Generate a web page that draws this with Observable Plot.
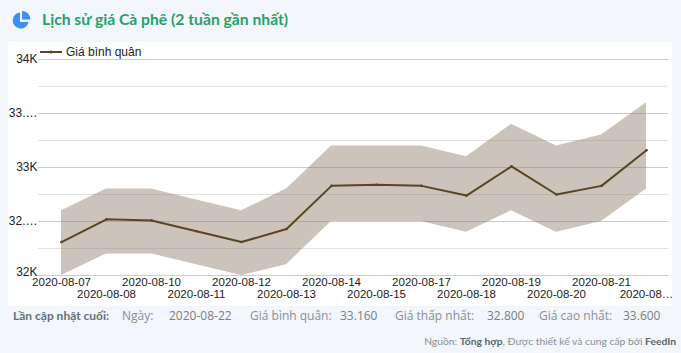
<!DOCTYPE html>
<html>
<head>
<meta charset="utf-8">
<script src="https://cdn.jsdelivr.net/npm/d3@7"></script>
<script src="https://cdn.jsdelivr.net/npm/@observablehq/plot@0.6"></script>
<style>
  html, body { margin:0; padding:0; }
  body { width:681px; height:353px; background:#f3f6fa; position:relative; overflow:hidden; font-family: Lato, "Noto Sans", sans-serif; }
  #title { position:absolute; left:42px; top:10px; font-size:15.7px; font-weight:700; color:#26a06e; white-space:nowrap; }
  #icon { position:absolute; left:11px; top:11px; }
  #panel { position:absolute; left:8px; top:42px; width:664px; height:264px; background:#fff; }
  #legend { position:absolute; left:32px; top:3px; font-family:"Liberation Sans", Arial, sans-serif; font-size:12px; color:#222; display:flex; align-items:center; }
  .f { position:absolute; font-family:"Open Sans", sans-serif; font-size:12px; color:#8a9097; white-space:nowrap; }
  .fv { color:#7b8087; }
  #src { position:absolute; right:5px; top:335px; font-family: Lato, sans-serif; font-size:10.3px; color:#8a9097; white-space:nowrap; }
  #src b { color:#5b6570; font-weight:700; }
</style>
</head>
<body>
<svg id="icon" width="20" height="20" viewBox="0 0 20 20">
  <path d="M9,1.5 A8,8 0 1 0 17.5,11 L9,11 Z" fill="#3a8ff0"/>
  <path d="M11,0 A8.5,8.5 0 0 1 19.5,8.5 L11,8.5 Z" fill="#3a8ff0"/>
</svg>
<div id="title">Lịch sử giá Cà phê (2 tuần gần nhất)</div>
<div id="panel">
  <div id="legend"><svg width="22" height="10"><line x1="0" y1="5" x2="22" y2="5" stroke="#5b4424" stroke-width="2"/><circle cx="11" cy="5" r="1.6" fill="#5b4424"/></svg><span style="margin-left:4px">Giá bình quân</span></div>
  <div id="chart"></div>
</div>
<div class="f" style="left:13px;top:308px;color:#66717b;font-weight:700;font-family:Lato,sans-serif">Lần cập nhật cuối:</div>
<div class="f" style="left:122px;top:307px">Ngày:</div>
<div class="f fv" style="left:169px;top:307px" id="fDate"></div>
<div class="f" style="left:250px;top:307px">Giá bình quân:</div>
<div class="f fv" style="left:340px;top:307px" id="fAvg"></div>
<div class="f" style="left:395px;top:307px">Giá thấp nhất:</div>
<div class="f fv" style="left:487px;top:307px" id="fLow"></div>
<div class="f" style="left:539px;top:307px">Giá cao nhất:</div>
<div class="f fv" style="left:623px;top:307px" id="fHigh"></div>
<div id="src">Nguồn: <b>Tổng hợp</b>, Được thiết kế và cung cấp bởi <b>FeedIn</b></div>
<script>
const dates = ["2020-08-07","2020-08-08","2020-08-10","2020-08-11","2020-08-12","2020-08-13","2020-08-14","2020-08-15","2020-08-17","2020-08-18","2020-08-19","2020-08-20","2020-08-21","2020-08-22"];
const xTickLabels = ["2020-08-07","2020-08-08","2020-08-10","2020-08-11","2020-08-12","2020-08-13","2020-08-14","2020-08-15","2020-08-17","2020-08-18","2020-08-19","2020-08-20","2020-08-21","2020-08…"];
const avgPrice  = [32310, 32520, 32510, 32410, 32310, 32430, 32830, 32840, 32830, 32740, 33010, 32750, 32830, 33160];
const lowPrice  = [32000, 32200, 32200, 32100, 32000, 32100, 32500, 32500, 32500, 32400, 32600, 32400, 32500, 32800];
const highPrice = [32600, 32800, 32800, 32700, 32600, 32800, 33200, 33200, 33200, 33100, 33400, 33200, 33300, 33600];
const yTicks = [32000, 32500, 33000, 33500, 34000];
const yTickLabels = ["32K", "32.…", "33K", "33.…", "34K"];
const yMinorTicks = [32250, 32750, 33250, 33750];
const lastUpdate = { date: "2020-08-22", avg: "33.160", low: "32.800", high: "33.600" };

document.getElementById("fDate").textContent = lastUpdate.date;
document.getElementById("fAvg").textContent = lastUpdate.avg;
document.getElementById("fLow").textContent = lastUpdate.low;
document.getElementById("fHigh").textContent = lastUpdate.high;

const rows = dates.map((d, i) => ({date: d, avg: avgPrice[i], low: lowPrice[i], high: highPrice[i], label: xTickLabels[i], row: i % 2}));
const lineColor = "#5b4424";
const fmtY = d => yTickLabels[yTicks.indexOf(d)];

const chart = Plot.plot({
  width: 664,
  height: 264,
  marginTop: 17,
  marginBottom: 31,
  marginLeft: 30,
  marginRight: 4,
  x: {type: "point", domain: dates, padding: 0.5, axis: null},
  y: {domain: [32000, 34000], axis: null},
  style: {fontFamily: "'Liberation Sans', Arial, sans-serif", fontSize: "11.5px", color: "#222", background: "transparent"},
  marks: [
    Plot.ruleY(yMinorTicks, {stroke: "#e2e2e2", strokeWidth: 1}),
    Plot.ruleY(yTicks, {stroke: "#cccccc", strokeWidth: 1}),
    Plot.areaY(rows, {x: "date", y1: "low", y2: "high", fill: "#8a7762", fillOpacity: 0.44}),
    Plot.line(rows, {x: "date", y: "avg", stroke: lineColor, strokeWidth: 2}),
    Plot.dot(rows, {x: "date", y: "avg", r: 1.3, fill: lineColor}),
    Plot.axisY(yTicks.slice(1), {tickSize: 0, tickPadding: 1, tickFormat: fmtY, fontSize: 12, fill: "#222"}),
    Plot.axisY(yTicks.slice(0, 1), {tickSize: 0, tickPadding: 1, tickFormat: fmtY, fontSize: 12, fill: "#222", dy: -3}),
    Plot.text(rows.filter(d => d.row === 0), {x: "date", text: "label", frameAnchor: "bottom", dy: 10, fill: "#222", fontSize: 11.5}),
    Plot.text(rows.filter(d => d.row === 1), {x: "date", text: "label", frameAnchor: "bottom", dy: 22, fill: "#222", fontSize: 11.5})
  ]
});
document.getElementById("chart").appendChild(chart);
</script>
</body>
</html>
